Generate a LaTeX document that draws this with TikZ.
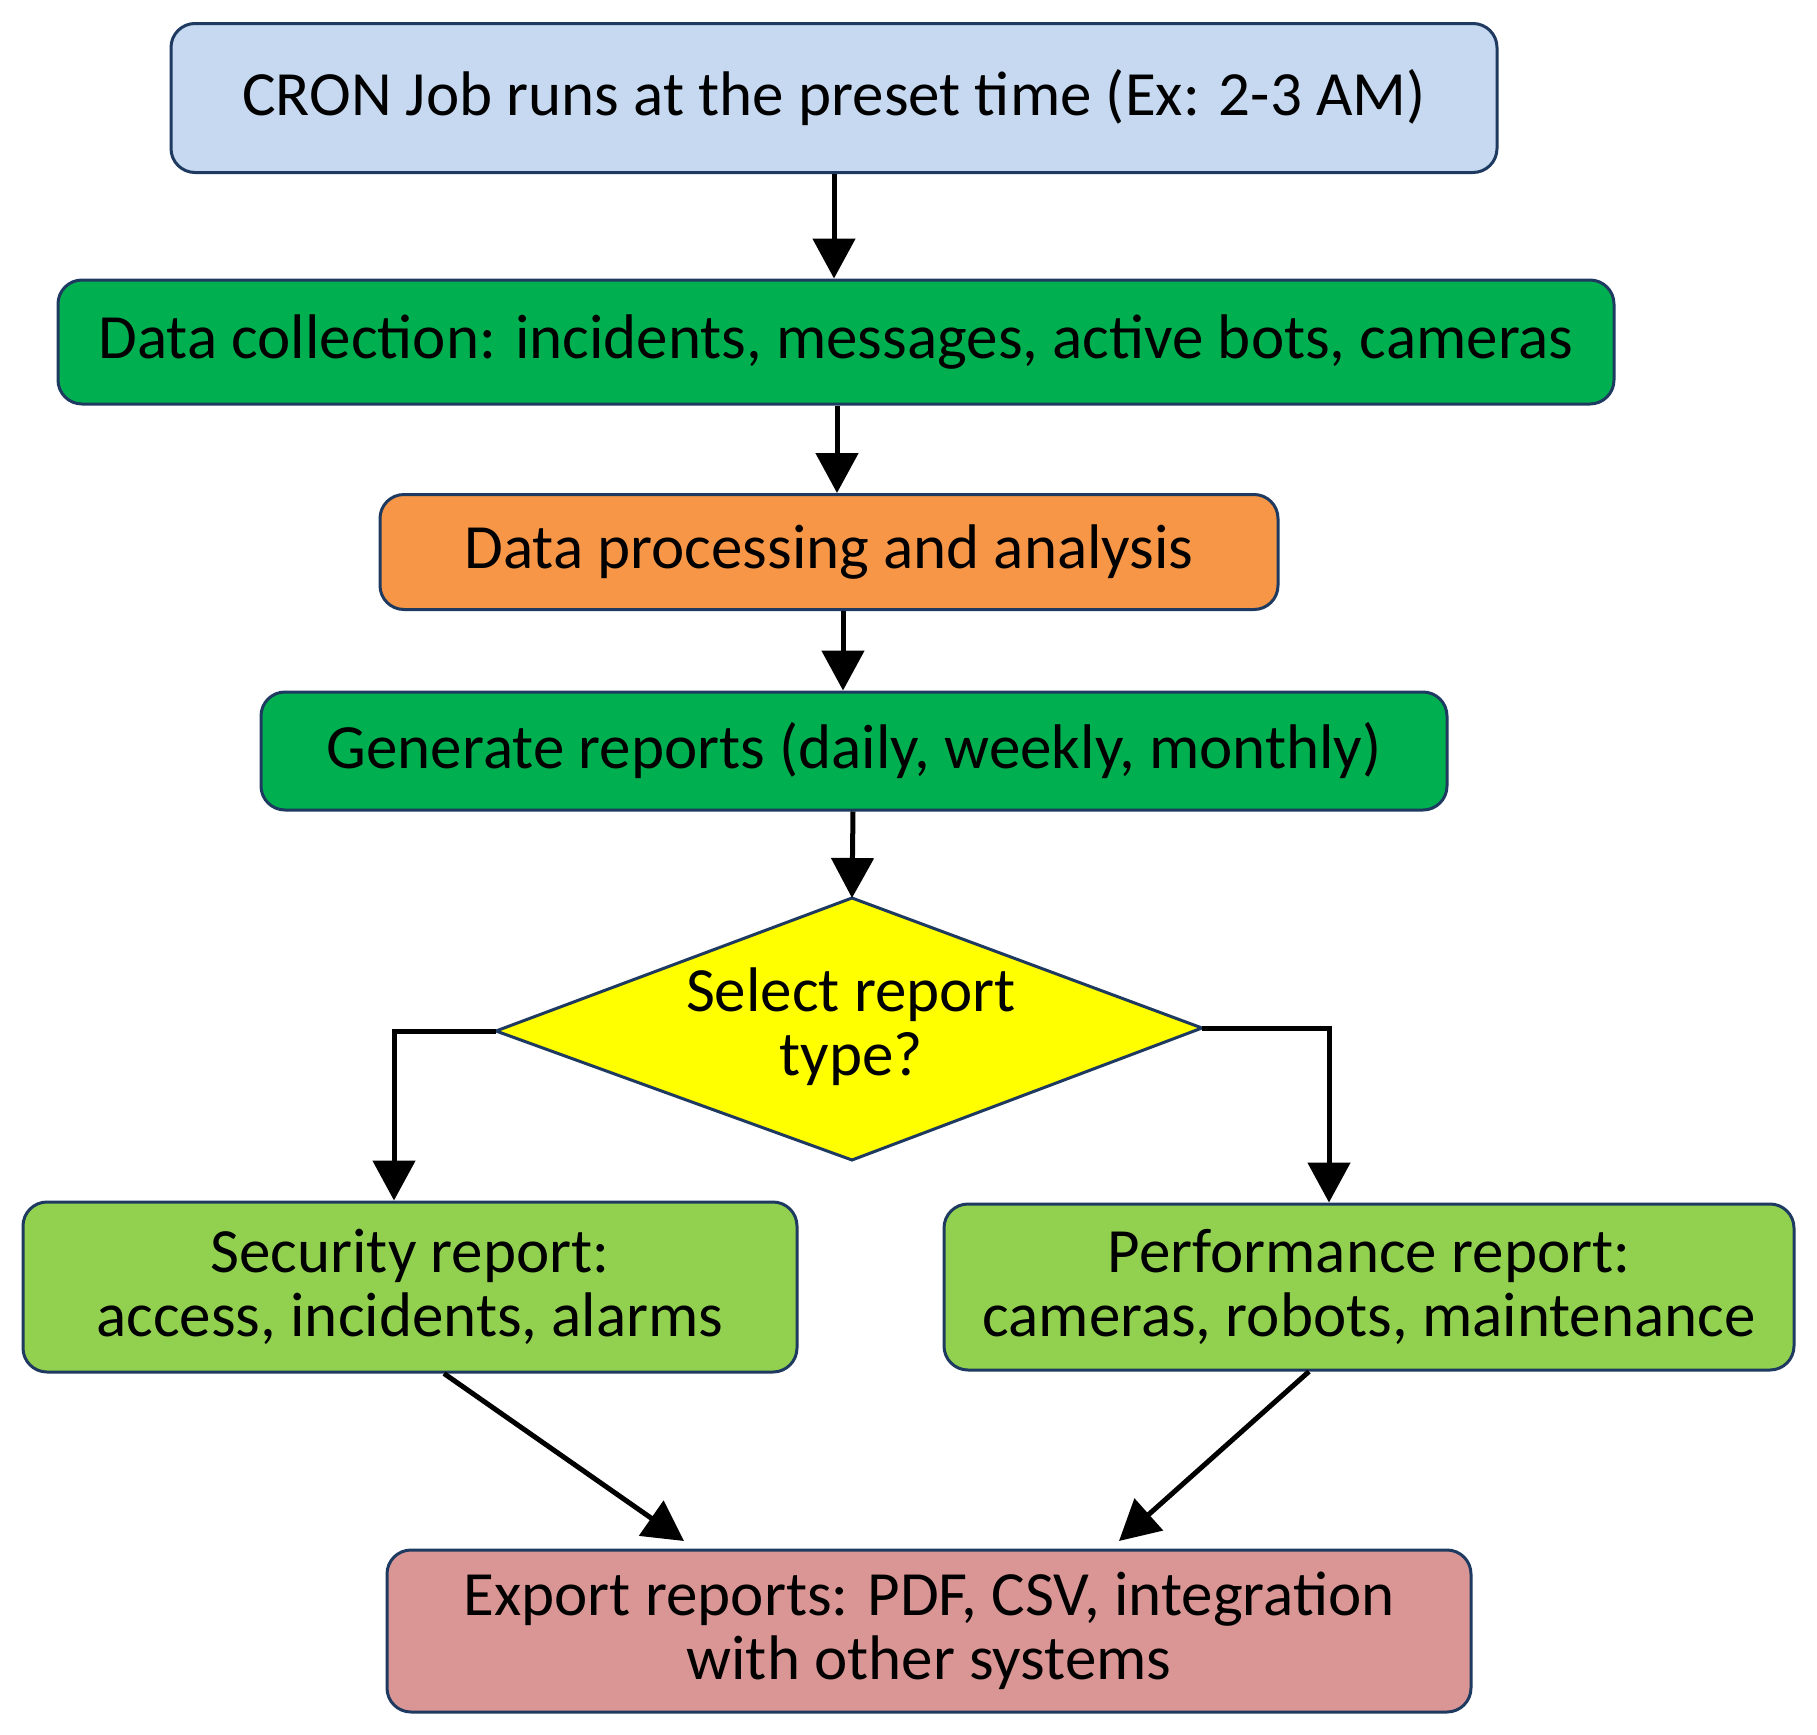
\documentclass[tikz,border=0pt]{standalone}
\usepackage{fontspec}
\setmainfont{Carlito}
\usetikzlibrary{arrows.meta}
\definecolor{bord}{HTML}{1F3A60}
\definecolor{cblue}{HTML}{C6D9F0}
\definecolor{cgreen}{HTML}{00B050}
\definecolor{corange}{HTML}{F79646}
\definecolor{cyellow}{HTML}{FFFF00}
\definecolor{clgreen}{HTML}{92D050}
\definecolor{cpink}{HTML}{DA9694}
\tikzset{
  txt/.style={font=\fontsize{31.5}{32}\selectfont, text=black, align=center},
  box/.style={txt, draw=bord, line width=1.5pt, rounded corners=12pt, inner sep=0pt},
  arr/.style={line width=2.5pt, -{Triangle[length=20pt,width=21pt]}},
}
\begin{document}
\begin{tikzpicture}[x=0.5pt,y=-0.5pt]
\useasboundingbox (0,0) rectangle (1817,1735);
\node[box, fill=cblue, minimum width=663pt, minimum height=74.5pt] (b1) at (834,98) {CRON Job runs at the preset time (Ex: 2-3 AM)};
\node[box, fill=cgreen, minimum width=778pt, minimum height=62pt] (b2) at (836,342) {Data collection: incidents, messages, active bots, cameras};
\node[box, fill=corange, minimum width=449pt, minimum height=57.5pt] (b3) at (829,552) {Data processing and analysis};
\node[box, fill=cgreen, minimum width=593pt, minimum height=59pt] (b4) at (854,751) {Generate reports (daily, weekly, monthly)};
\path[draw=bord, line width=1.5pt, fill=cyellow] (496,1031) coordinate (dw) -- (852,898) coordinate (dn) -- (1202,1028) coordinate (de) -- (852,1160) coordinate (ds) -- cycle;
\node[txt] (dt) at (851,1027) {Select report\\type?};
\node[box, fill=clgreen, minimum width=387pt, minimum height=85pt] (b5) at (410,1287) {Security report:\\access, incidents, alarms};
\node[box, fill=clgreen, minimum width=425pt, minimum height=83pt] (b6) at (1369,1287) {Performance report:\\cameras, robots, maintenance};
\node[box, fill=cpink, minimum width=542pt, minimum height=81pt] (b7) at (929,1631) {Export reports: PDF, CSV, integration\\with other systems};
\draw[arr] (b1.south) -- (b1.south |- b2.north);
\draw[arr] ([xshift=0.5pt]b2.south) -- ([xshift=0.5pt]b2.south |- b3.north);
\draw[arr] ([xshift=7pt]b3.south) -- ([xshift=7pt]b3.south |- b4.north);
\draw[arr] ([xshift=-0.5pt]b4.south) -- (dn);
\draw[arr] (dw) -| ([xshift=-8pt]b5.north);
\draw[arr] (de) -| ([xshift=-20pt]b6.north);
\coordinate (t1) at (684,1541);
\coordinate (t2) at (1119,1541);
\draw[arr] ([xshift=17pt]b5.south) -- (t1);
\draw[arr] ([xshift=-30pt]b6.south) -- (t2);
\end{tikzpicture}
\end{document}
